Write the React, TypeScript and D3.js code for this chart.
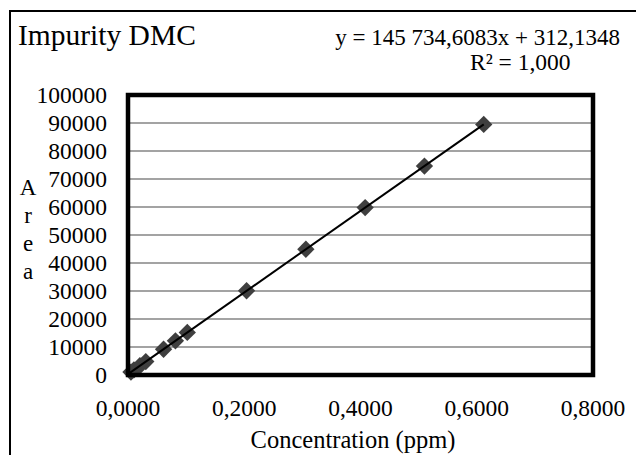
import React from 'react';
import * as d3 from 'd3';

// concentration (ppm) and peak area
const concentrations = [0.0051, 0.0102, 0.0204, 0.0306, 0.0612, 0.0816, 0.102, 0.204, 0.306, 0.408, 0.51, 0.612];
const areas = [1050, 1800, 3300, 4800, 9200, 12200, 15200, 30100, 44900, 59800, 74600, 89500];

const xTicks = [0, 0.2, 0.4, 0.6, 0.8];
const yTicks = [0, 10000, 20000, 30000, 40000, 50000, 60000, 70000, 80000, 90000, 100000];

const title = 'Impurity DMC';
const equation = 'y = 145 734,6083x + 312,1348';
const rSquared = 'R² = 1,000';
const xTitle = 'Concentration (ppm)';
const yTitle = ['A', 'r', 'e', 'a'];

const width = 636;
const height = 455;
const plot = { left: 128, right: 593, top: 95, bottom: 375 };
const font = '"Liberation Serif", "Times New Roman", serif';

const fmtX = (d: number) => d.toFixed(4).replace('.', ',');

const App = () => {
  const x = d3.scaleLinear().domain([0, 0.8]).range([plot.left, plot.right]);
  const y = d3.scaleLinear().domain([0, 100000]).range([plot.bottom, plot.top]);

  // linear trend line, from the intercept to the last standard
  const line = d3.line<[number, number]>()
    .x(d => x(d[0]))
    .y(d => y(d[1]));
  const trend: [number, number][] = [[0, 312], [concentrations[concentrations.length - 1], areas[areas.length - 1]]];

  const diamond = d3.symbol().type(d3.symbolSquare).size(150)();

  return (
    <svg width={width} height={height} style={{ position: 'absolute', left: 0, top: 0, background: '#fff' }}
      fontFamily={font}>
      {/* outer frame, only left and top edges visible */}
      <path d={`M10,${height} V11 H${width}`} fill="none" stroke="#000" strokeWidth={2} />

      <text x={18} y={45} fontSize={29.5} fill="#000">{title}</text>
      <text x={620} y={45} fontSize={23} textAnchor="end" fill="#000">{equation}</text>
      <text x={470} y={70} fontSize={23.5} fill="#000">{rSquared}</text>

      {/* grid */}
      {yTicks.slice(1, -1).map(t => (
        <line key={t} x1={plot.left} x2={plot.right} y1={y(t)} y2={y(t)} stroke="#858585" strokeWidth={1.6} />
      ))}

      {/* y tick labels */}
      {yTicks.map(t => (
        <text key={t} x={107} y={y(t)} dy="0.35em" fontSize={23.5} textAnchor="end" fill="#000">{t}</text>
      ))}

      {/* x tick labels */}
      {xTicks.map(t => (
        <text key={t} x={x(t)} y={416} fontSize={23.5} textAnchor="middle" fill="#000">{fmtX(t)}</text>
      ))}

      <text x={353} y={448} fontSize={24.5} textAnchor="middle" fill="#000">{xTitle}</text>
      {yTitle.map((c, i) => (
        <text key={i} x={28} y={195 + i * 28} fontSize={23} textAnchor="middle" fill="#000">{c}</text>
      ))}

      {/* data points */}
      {concentrations.map((c, i) => (
        <path key={i} d={diamond ?? ''} transform={`translate(${x(c)},${y(areas[i])}) rotate(45)`}
          fill="#3f3f3f" />
      ))}

      <path d={line(trend) ?? ''} fill="none" stroke="#000" strokeWidth={2} />

      {/* plot frame */}
      <rect x={plot.left} y={plot.top} width={plot.right - plot.left} height={plot.bottom - plot.top}
        fill="none" stroke="#000" strokeWidth={4.5} />
    </svg>
  );
};

export default App;
